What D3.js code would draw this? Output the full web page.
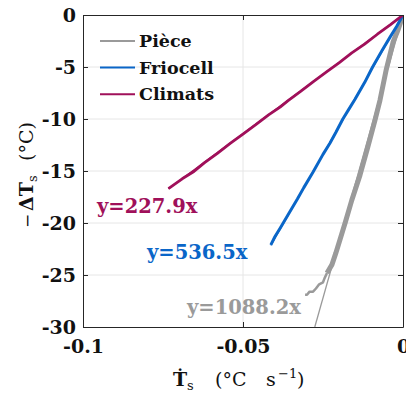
<!DOCTYPE html>
<html><head><meta charset="utf-8">
<script src="https://cdn.jsdelivr.net/npm/d3@7"></script>
<style>
body{margin:0;background:#fff}
svg{display:block}
text{font-family:"DejaVu Serif",serif}
</style>
</head><body>
<svg id="c" width="406" height="394"></svg>
<script>
// ---- data ----
const seriesNames = ["Pièce", "Friocell", "Climats"];
const seriesColors = ["#9a9a9a", "#0a66c8", "#a0105a"];
const fitSlopes = [1088.2, 536.5, 227.9];
const fitLabels = ["y=1088.2x", "y=536.5x", "y=227.9x"];

const pieceX = [0, -0.0015, -0.0031, -0.0052, -0.0072, -0.00875, -0.0110, -0.01344, -0.0160, -0.0180, -0.0197, -0.0210, -0.0222, -0.02375];
const pieceY = [0, -1.4, -2.6, -5.2, -8.2, -10.1, -12.7, -15.4, -17.8, -19.9, -21.6, -22.9, -24.0, -24.8];
const pieceTailX = [-0.02375, -0.0245, -0.0250, -0.0262, -0.0272, -0.0281, -0.0292, -0.0300, -0.0306];
const pieceTailY = [-24.8, -25.3, -25.7, -25.9, -26.3, -26.6, -26.6, -26.9, -26.9];

const friocellX = [0, -0.0020, -0.0040, -0.0065, -0.0095, -0.0120, -0.0150, -0.0170, -0.0188, -0.0210, -0.0228, -0.0250, -0.0281, -0.0310, -0.0330, -0.0355, -0.0384, -0.0400, -0.0413];
const friocellY = [0, -1.1, -2.1, -3.4, -5.0, -6.5, -8.1, -9.1, -10.0, -11.3, -12.3, -13.4, -15.1, -16.6, -17.7, -19.0, -20.5, -21.3, -22.1];

const climatsX = [0, -0.004, -0.008, -0.012, -0.016, -0.020, -0.024, -0.028, -0.032, -0.036, -0.0384, -0.042, -0.046, -0.050, -0.054, -0.058, -0.062, -0.0656, -0.0690, -0.0733];
const climatsY = [0, -0.95, -1.85, -2.8, -3.65, -4.6, -5.5, -6.4, -7.35, -8.25, -8.85, -9.6, -10.55, -11.45, -12.35, -13.3, -14.2, -15.1, -15.75, -16.7];

const xTicks = [-0.1, -0.05, 0];
const xTickLabels = ["-0.1", "-0.05", "0"];
const yTicks = [0, -5, -10, -15, -20, -25, -30];
const yTickLabels = ["0", "-5", "-10", "-15", "-20", "-25", "-30"];

// ---- layout ----
const L = 83, R = 403, T = 15, B = 327;
const x = d3.scaleLinear().domain([-0.1, 0]).range([L, R]);
const y = d3.scaleLinear().domain([-30, 0]).range([B, T]);
const svg = d3.select("#c");
const axisCol = "#262626";

// grid
svg.append("g").selectAll("line").data(yTicks.filter(v => v > -30 && v < 0)).join("line")
  .attr("x1", L).attr("x2", R).attr("y1", d => y(d)).attr("y2", d => y(d))
  .attr("stroke", "#e6e6e6").attr("stroke-width", 1);
svg.append("g").selectAll("line").data(xTicks.filter(v => v > -0.1 && v < 0)).join("line")
  .attr("y1", T).attr("y2", B).attr("x1", d => x(d)).attr("x2", d => x(d))
  .attr("stroke", "#e6e6e6").attr("stroke-width", 1);

// clip
svg.append("clipPath").attr("id", "clip").append("rect")
  .attr("x", L).attr("y", T).attr("width", R - L).attr("height", B - T);
const plot = svg.append("g").attr("clip-path", "url(#clip)");

const line = d3.line().x(d => x(d[0])).y(d => y(d[1]));
const zip = (a, b) => a.map((v, i) => [v, b[i]]);

// fit lines
const fitEnds = [-30 / fitSlopes[0], friocellX[friocellX.length - 1], climatsX[climatsX.length - 1]];
fitSlopes.forEach((s, i) => {
  plot.append("path").datum([[0, 0], [fitEnds[i], s * fitEnds[i]]])
    .attr("d", line).attr("fill", "none").attr("stroke", seriesColors[i]).attr("stroke-width", 1.3);
});

plot.append("path").datum(zip(pieceTailX, pieceTailY)).attr("d", line)
  .attr("fill", "none").attr("stroke", seriesColors[0]).attr("stroke-width", 2.5).attr("stroke-linejoin", "round");
plot.append("path").datum(zip(pieceX, pieceY)).attr("d", line)
  .attr("fill", "none").attr("stroke", seriesColors[0]).attr("stroke-width", 5).attr("stroke-linejoin", "round");
plot.append("path").datum(zip(friocellX, friocellY)).attr("d", line)
  .attr("fill", "none").attr("stroke", seriesColors[1]).attr("stroke-width", 3).attr("stroke-linejoin", "round");
plot.append("path").datum(zip(climatsX, climatsY)).attr("d", line)
  .attr("fill", "none").attr("stroke", seriesColors[2]).attr("stroke-width", 2.8).attr("stroke-linejoin", "round");

// axes
const fontTick = "bold 19px 'DejaVu Serif'";
const yAxis = d3.axisLeft(y).tickValues(yTicks).tickFormat((d, i) => yTickLabels[i]).tickSizeInner(-5).tickSizeOuter(0).tickPadding(7);
svg.append("g").attr("transform", `translate(${L},0)`).call(yAxis);
const xAxis = d3.axisBottom(x).tickValues(xTicks).tickFormat((d, i) => xTickLabels[i]).tickSizeInner(-5).tickSizeOuter(0).tickPadding(13);
svg.append("g").attr("transform", `translate(0,${B})`).call(xAxis);
const yAxisR = d3.axisRight(y).tickValues(yTicks).tickFormat("").tickSizeInner(-5).tickSizeOuter(0);
svg.append("g").attr("transform", `translate(${R},0)`).call(yAxisR);
const xAxisT = d3.axisTop(x).tickValues(xTicks).tickFormat("").tickSizeInner(-5).tickSizeOuter(0);
svg.append("g").attr("transform", `translate(0,${T})`).call(xAxisT);
svg.selectAll(".domain, .tick line").attr("stroke", axisCol).attr("stroke-width", 1);
svg.selectAll(".tick text").style("font", fontTick).attr("fill", "#111");

// legend
const leg = svg.append("g");
seriesNames.forEach((n, i) => {
  const yy = 41 + i * 26.6;
  leg.append("line").attr("x1", 100).attr("x2", 135).attr("y1", yy).attr("y2", yy)
    .attr("stroke", seriesColors[i]).attr("stroke-width", 2);
  leg.append("text").attr("x", 139).attr("y", yy + 6).text(n)
    .style("font", "bold 17.5px 'DejaVu Serif'").attr("fill", "#111");
});

// fit annotations (same order as series)
const annPos = [[187, 314], [147, 259], [97, 213]];
fitLabels.forEach((t, i) => {
  svg.append("text").attr("x", annPos[i][0]).attr("y", annPos[i][1]).text(t)
    .style("font", "bold 19.5px 'DejaVu Serif'").attr("fill", seriesColors[i]);
});

// x axis label
const xl = svg.append("text").attr("y", 386).style("font-size", "19px").attr("fill", "#111");
xl.append("tspan").attr("x", 173).attr("font-weight", "bold").text("T\u0307");
xl.append("tspan").attr("x", 187).attr("font-size", "13px").attr("dy", 4).text("s");
xl.append("tspan").attr("x", 215).attr("dy", -4).text("(°C");
xl.append("tspan").attr("x", 266).text("s");
xl.append("tspan").attr("x", 278).attr("font-size", "13px").attr("dy", -8).text("−1");
xl.append("tspan").attr("x", 297).attr("dy", 8).text(")");

// y axis label
const yl = svg.append("text").attr("transform", "translate(33,0) rotate(-90)").attr("fill", "#111");
yl.append("tspan").attr("x", -228).style("font-size", "17px").text("−");
yl.append("tspan").attr("x", -211).style("font-size", "19px").attr("font-weight", "bold").text("ΔT");
yl.append("tspan").style("font-size", "13px").attr("dy", 4).text("s");
yl.append("tspan").attr("x", -161).attr("dy", -4).style("font-size", "19px").text("(°C)");
</script>
</body></html>
